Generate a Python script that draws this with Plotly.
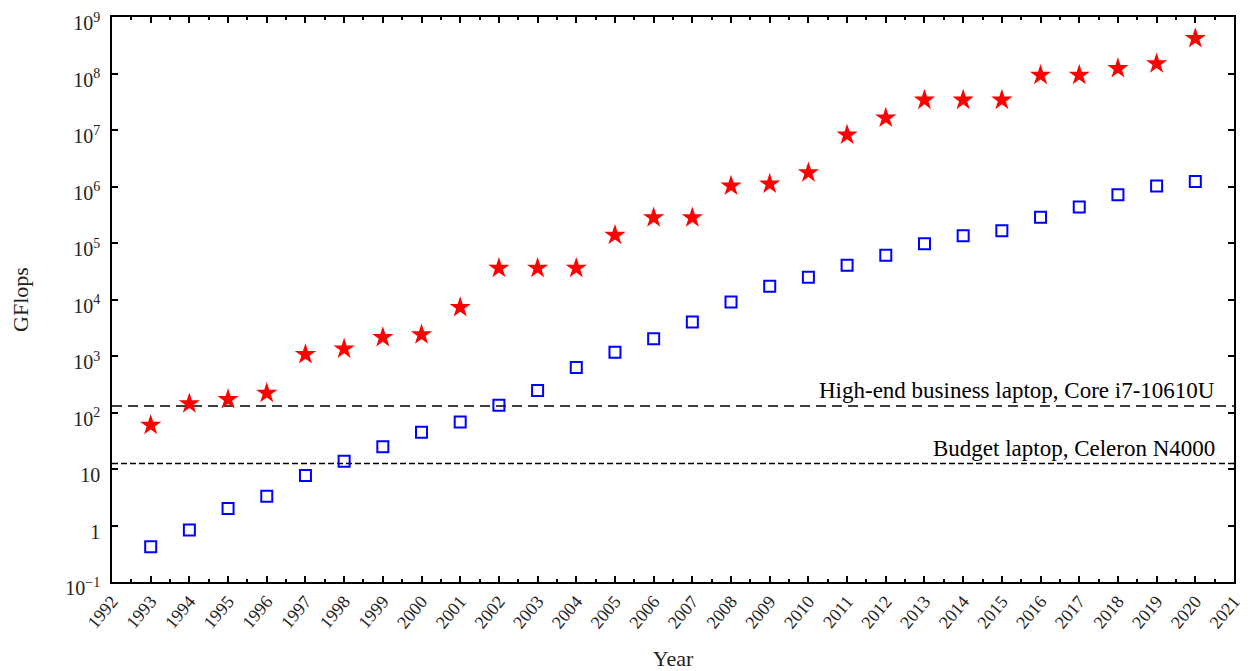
import math
import plotly.graph_objects as go

years = list(range(1993, 2021))
top1_gflops = [59.7, 143.4, 170.0, 220.4, 1068, 1338, 2121, 2379, 7226,
               35860, 35860, 35860, 136800, 280600, 280600, 1026000, 1105000,
               1759000, 8162000, 16324000, 33862700, 33862700, 33862700,
               93014600, 93014600, 122300000, 148600000, 415530000]
top500_gflops = [0.42, 0.83, 2.0, 3.3, 7.7, 13.7, 24.7, 44.7, 67.8, 134, 245,
                 624, 1166, 2026, 4005, 9000, 17100, 24670, 40190, 60820,
                 96620, 133700, 164700, 286100, 432200, 715600, 1022000, 1230000]
laptop_names = ["High-end business laptop, Core i7-10610U", "Budget laptop, Celeron N4000"]
laptop_gflops = [130, 12.5]
laptop_dash = ["10px,6px", "6px,3px"]

ytick_vals = [10.0 ** k for k in range(-1, 10)]
ytick_text = ["10<sup>\u22121</sup>", "1", "10"] + ["10<sup>%d</sup>" % k for k in range(2, 10)]
xtick_vals = list(range(1992, 2022))

FONT = "Liberation Serif"

fig = go.Figure()
for name, val, dash in zip(laptop_names, laptop_gflops, laptop_dash):
    fig.add_trace(go.Scatter(x=[1992, 2021], y=[val, val], mode="lines",
                             line=dict(color="black", width=1.5, dash=dash),
                             showlegend=False, hoverinfo="skip"))
    fig.add_annotation(x=2020.55, y=math.log10(val), text=name, showarrow=False,
                       xanchor="right", yanchor="bottom", yshift=1,
                       font=dict(family=FONT, size=23, color="black"))

fig.add_trace(go.Scatter(x=years, y=top1_gflops, mode="markers", name="#1",
                         marker=dict(symbol="star", size=16, color="#ff0000",
                                     line=dict(width=0)), showlegend=False))
fig.add_trace(go.Scatter(x=years, y=top500_gflops, mode="markers", name="#500",
                         marker=dict(symbol="square-open", size=11, color="#0000ff",
                                     line=dict(width=2, color="#0000ff")), showlegend=False))

fig.update_layout(
    width=1251, height=671,
    margin=dict(l=104, r=25, t=9, b=97),
    plot_bgcolor="white", paper_bgcolor="white",
    font=dict(family=FONT, size=18, color="#222"),
)
fig.update_xaxes(range=[1992, 2021], tickvals=xtick_vals, tickangle=-50,
                 automargin=False, ticklabeloverflow="allow",
                 ticks="inside", ticklen=6, tickwidth=1.5, tickcolor="black",
                 showline=True, linecolor="black", linewidth=1.5, mirror="ticks",
                 showgrid=False, zeroline=False,
                 minor=dict(dtick=0.5, tick0=1992, ticks="inside", ticklen=3,
                            tickwidth=1.5, tickcolor="black", showgrid=False),
                 title=dict(text="Year", font=dict(family=FONT, size=22), standoff=19),
                 tickfont=dict(family=FONT, size=18))
fig.update_yaxes(type="log", range=[-1, 9], tickvals=ytick_vals, ticktext=ytick_text,
                 automargin=False, ticklabeloverflow="allow", ticklabelstandoff=6,
                 ticklabelshift=6,
                 ticks="inside", ticklen=6, tickwidth=1.5, tickcolor="black",
                 showline=True, linecolor="black", linewidth=1.5, mirror="ticks",
                 showgrid=False, zeroline=False,
                 title=dict(text="GFlops", font=dict(family=FONT, size=22), standoff=34),
                 tickfont=dict(family=FONT, size=20))

fig.write_html("out.html")
